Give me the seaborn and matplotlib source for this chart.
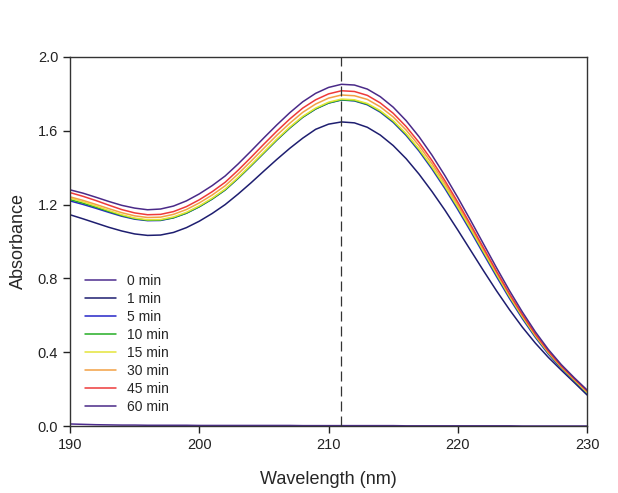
import numpy as np
import pandas as pd
import seaborn as sns
from matplotlib import pyplot as plt

# wavelength grid (nm), 1 nm steps
wavelength = list(range(190, 231))

# absorbance
min0 = [0.011, 0.009, 0.007, 0.006, 0.005, 0.005, 0.004, 0.004, 0.004, 0.004, 0.003,
        0.003, 0.003, 0.003, 0.003, 0.003, 0.003, 0.003, 0.002, 0.002, 0.002,
        0.002, 0.002, 0.002, 0.002, 0.002, 0.001, 0.001, 0.001, 0.001, 0.001,
        0.001, 0.001, 0.001, 0.001, 0.000, 0.000, 0.000, 0.000, 0.000, 0.000]
min1 = [1.145, 1.123, 1.100, 1.077, 1.057, 1.041, 1.033, 1.035, 1.049, 1.075, 1.110,
        1.152, 1.200, 1.257, 1.318, 1.382, 1.445, 1.505, 1.560, 1.608, 1.636,
        1.648, 1.643, 1.619, 1.577, 1.520, 1.449, 1.365, 1.271, 1.170, 1.062,
        0.951, 0.840, 0.732, 0.630, 0.535, 0.449, 0.372, 0.303, 0.236, 0.168]
min5 = [1.220, 1.201, 1.180, 1.158, 1.137, 1.121, 1.113, 1.114, 1.128, 1.153, 1.188,
        1.230, 1.279, 1.342, 1.410, 1.480, 1.550, 1.615, 1.673, 1.718, 1.750,
        1.767, 1.762, 1.741, 1.701, 1.646, 1.575, 1.490, 1.393, 1.287, 1.173,
        1.054, 0.931, 0.809, 0.691, 0.581, 0.480, 0.390, 0.312, 0.244, 0.177]
min10 = [1.227, 1.208, 1.186, 1.163, 1.141, 1.124, 1.115, 1.116, 1.129, 1.154, 1.189,
         1.231, 1.280, 1.343, 1.411, 1.481, 1.551, 1.616, 1.674, 1.719, 1.751,
         1.768, 1.764, 1.744, 1.705, 1.651, 1.581, 1.497, 1.401, 1.296, 1.183,
         1.064, 0.941, 0.819, 0.700, 0.589, 0.487, 0.396, 0.317, 0.248, 0.180]
min15 = [1.235, 1.215, 1.192, 1.168, 1.145, 1.127, 1.118, 1.119, 1.133, 1.158, 1.193,
         1.235, 1.284, 1.347, 1.415, 1.485, 1.555, 1.620, 1.678, 1.723, 1.755,
         1.772, 1.768, 1.748, 1.709, 1.655, 1.585, 1.501, 1.405, 1.300, 1.187,
         1.068, 0.945, 0.823, 0.703, 0.592, 0.489, 0.398, 0.319, 0.250, 0.182]
min30 = [1.242, 1.223, 1.201, 1.178, 1.156, 1.139, 1.130, 1.132, 1.147, 1.173, 1.209,
         1.252, 1.302, 1.366, 1.435, 1.506, 1.576, 1.641, 1.700, 1.745, 1.777,
         1.794, 1.790, 1.770, 1.730, 1.675, 1.604, 1.519, 1.422, 1.315, 1.200,
         1.079, 0.955, 0.831, 0.710, 0.598, 0.494, 0.402, 0.322, 0.253, 0.186]
min45 = [1.265, 1.245, 1.222, 1.197, 1.173, 1.155, 1.145, 1.147, 1.162, 1.189, 1.226,
         1.270, 1.321, 1.386, 1.456, 1.528, 1.598, 1.664, 1.723, 1.768, 1.800,
         1.817, 1.813, 1.792, 1.751, 1.695, 1.623, 1.537, 1.439, 1.330, 1.213,
         1.090, 0.964, 0.838, 0.716, 0.603, 0.498, 0.405, 0.325, 0.256, 0.190]
min60 = [1.280, 1.262, 1.240, 1.217, 1.196, 1.181, 1.172, 1.176, 1.192, 1.220, 1.258,
         1.303, 1.355, 1.420, 1.490, 1.562, 1.632, 1.698, 1.757, 1.803, 1.835,
         1.852, 1.848, 1.826, 1.785, 1.728, 1.655, 1.568, 1.468, 1.357, 1.238,
         1.113, 0.985, 0.857, 0.733, 0.617, 0.510, 0.415, 0.333, 0.262, 0.195]

labels = ['0 min', '1 min', '5 min', '10 min', '15 min', '30 min', '45 min', '60 min']
series = [min0, min1, min5, min10, min15, min30, min45, min60]
colors = ['#4d2c8e', '#1e1e70', '#2626c8', '#24ad24', '#e4e43a',
          '#f2a044', '#ee3a3a', '#4a2a88']

peak_nm = 211

rows = []
for lab, vals in zip(labels, series):
    for w, a in zip(wavelength, vals):
        rows.append((lab, w, a))
df = pd.DataFrame(rows, columns=['time', 'wavelength', 'absorbance'])

sns.set_style('ticks')
plt.rcParams['font.family'] = ['Liberation Sans', 'DejaVu Sans']

fig = plt.figure(figsize=(6.18, 4.93), dpi=100)
ax = fig.add_axes([0.1133, 0.1359, 0.8367, 0.7485])

sns.lineplot(data=df, x='wavelength', y='absorbance', hue='time',
             hue_order=labels, palette=colors, linewidth=1.1, ax=ax)

ax.axvline(peak_nm, color='#333333', linewidth=0.9, linestyle=(0, (8, 4)))

ax.set_xlim(190, 230)
ax.set_ylim(0, 2.0)
ax.set_xticks([190, 200, 210, 220, 230])
ax.set_yticks([0.0, 0.4, 0.8, 1.2, 1.6, 2.0])
ax.set_yticklabels(['0.0', '0.4', '0.8', '1.2', '1.6', '2.0'])
ax.tick_params(direction='out', length=5, width=1, labelsize=10.5, colors='#222222')
for s in ax.spines.values():
    s.set_visible(True)
    s.set_color('#333333')
    s.set_linewidth(1.0)

ax.set_xlabel('Wavelength (nm)', fontsize=13, labelpad=14)
ax.set_ylabel('Absorbance', fontsize=13, labelpad=8)

ax.legend(loc='lower left', bbox_to_anchor=(0.005, 0.0), frameon=False,
          fontsize=10, handlelength=2.2, labelspacing=0.28, handletextpad=0.8)

plt.savefig('out.png', dpi=100)
